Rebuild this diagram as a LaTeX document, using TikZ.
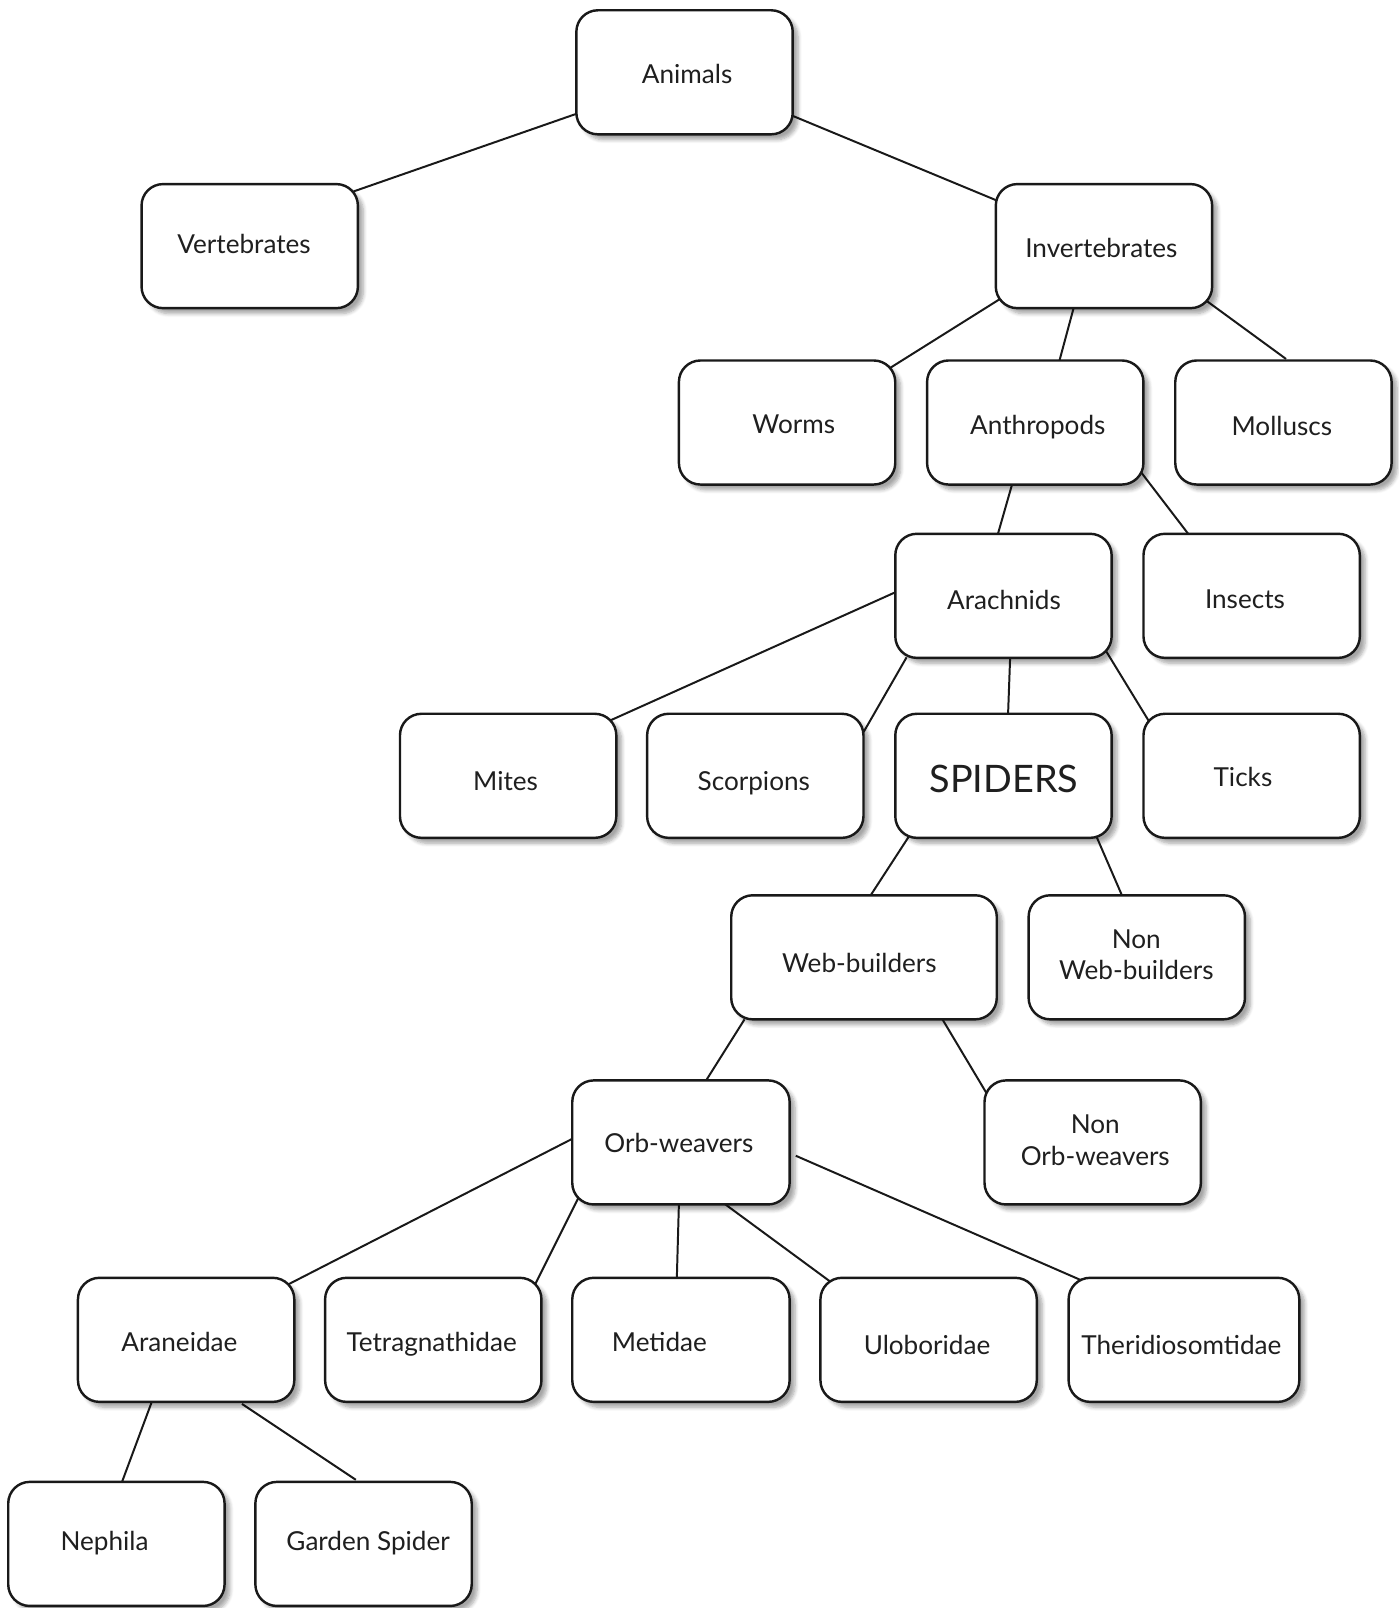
\documentclass[tikz,border=0pt]{standalone}
\usepackage{fontspec}
\setmainfont{Lato}
\usetikzlibrary{calc,backgrounds,shadows.blur}
\begin{document}
\begin{tikzpicture}[x=0.02cm,y=-0.02cm,
  box/.style={draw=black!90,line width=1.35pt,fill=white,rounded corners=0.42cm,
    minimum width=4.22cm,minimum height=2.42cm,
    blur shadow={shadow xshift=3pt,shadow yshift=-3pt,shadow blur steps=6,shadow opacity=35}},
  txt/.style={inner sep=0pt,text=black!88,font=\fontsize{14.5}{17.6}\selectfont,
    text height=10.4pt,text depth=0pt},
  txt2/.style={inner sep=0pt,text=black!88,font=\fontsize{14.5}{17.6}\selectfont,align=center},
  link/.style={draw=black!90,line width=1.1pt}]
\useasboundingbox (0,0) rectangle (1364,1568);
% boxes
\node[box] (anim) at (667.5,70.5) {};
\node[box] (vert) at (243.5,240) {};
\node[box] (invert) at (1076.5,240) {};
\node[box] (worms) at (767.5,412) {};
\node[box] (anthro) at (1009.5,412) {};
\node[box] (moll) at (1251.5,412) {};
\node[box] (arach) at (978.5,581) {};
\node[box] (insects) at (1220.5,581) {};
\node[box] (mites) at (495.5,756.5) {};
\node[box] (scorp) at (736.5,756.5) {};
\node[box] (spiders) at (978.5,756.5) {};
\node[box] (ticks) at (1220.5,756.5) {};
\node[box,minimum width=5.18cm] (web) at (842.5,933.5) {};
\node[box] (nonweb) at (1108.5,933.5) {};
\node[box,minimum width=4.24cm] (orb) at (664,1114) {};
\node[box] (nonorb) at (1065.5,1114) {};
\node[box] (aran) at (181.5,1306.5) {};
\node[box] (tetra) at (422.5,1306.5) {};
\node[box,minimum width=4.24cm] (met) at (664,1306.5) {};
\node[box] (ulo) at (905.5,1306.5) {};
\node[box,minimum width=4.5cm] (theri) at (1154.5,1306.5) {};
\node[box] (neph) at (113.5,1505.5) {};
\node[box] (garden) at (354.5,1505.5) {};
% labels
\node[txt] (anim-t) at (670,72) {Animals};
\node[txt] (vert-t) at (238,238) {Vertebrates};
\node[txt] (invert-t) at (1074,242) {Invertebrates};
\node[txt] (worms-t) at (774,414) {Worms};
\node[txt] (anthro-t) at (1012,415) {Anthropods};
\node[txt] (moll-t) at (1250,416) {Molluscs};
\node[txt] (arach-t) at (979,585) {Arachnids};
\node[txt] (insects-t) at (1214,584) {Insects};
\node[txt] (mites-t) at (493,762) {Mites};
\node[txt] (scorp-t) at (735,762) {Scorpions};
\node[txt,font=\fontsize{21}{24}\selectfont,text height=15pt] (spiders-t) at (979,760) {SPIDERS};
\node[txt] (ticks-t) at (1212,758) {Ticks};
\node[txt] (web-t) at (838,939) {Web-builders};
\node[txt2] (nonweb-t) at (1108,931) {Non\\Web-builders};
\node[txt] (orb-t) at (662,1115) {Orb-weavers};
\node[txt2] (nonorb-t) at (1068,1112) {Non\\Orb-weavers};
\node[txt] (aran-t) at (175,1309) {Araneidae};
\node[txt] (tetra-t) at (421,1309) {Tetragnathidae};
\node[txt] (met-t) at (643,1309) {Metidae};
\node[txt] (ulo-t) at (904,1312) {Uloboridae};
\node[txt] (theri-t) at (1152,1312) {Theridiosomtidae};
\node[txt] (neph-t) at (102,1503) {Nephila};
\node[txt] (garden-t) at (359,1503) {Garden Spider};
\begin{scope}[on background layer]
\draw[link] ($(anim)+(-105.5,40.5)$) -- ($(vert)+(97.5,-52)$);
\draw[link] ($(anim)+(105.5,42.5)$) -- ($(invert)+(-98.5,-42)$);
\draw[link] ($(invert)+(-100.5,51)$) -- ($(worms)+(98.5,-52)$);
\draw[link] ($(invert)+(-29.5,60)$) -- ($(anthro)+(23.5,-60)$);
\draw[link] ($(invert)+(99.5,53)$) -- ($(moll)+(2.5,-62)$);
\draw[link] ($(anthro)+(-22.5,60)$) -- ($(arach)+(-5.5,-60)$);
\draw[link] ($(anthro)+(100.5,45)$) -- ($(insects)+(-61.5,-60)$);
\draw[link] ($(arach)+(-106.5,-3)$) -- ($(mites)+(98.5,-53.5)$);
\draw[link] ($(arach)+(-94.5,60)$) -- ($(scorp)+(105.5,-42.5)$);
\draw[link] ($(arach)+(6.5,60)$) -- ($(spiders)+(4.5,-60.5)$);
\draw[link] ($(arach)+(99.5,53)$) -- ($(ticks)+(-98.5,-50.5)$);
\draw[link] ($(spiders)+(-90.5,56.5)$) -- ($(web)+(6.5,-60.5)$);
\draw[link] ($(spiders)+(89.5,56.5)$) -- ($(nonweb)+(-14.5,-60.5)$);
\draw[link] ($(web)+(-116.5,60.5)$) -- ($(orb)+(23,-58)$);
\draw[link] ($(web)+(76.5,60.5)$) -- ($(nonorb)+(-103.5,-48)$);
\draw[link] ($(orb)+(-107,-3)$) -- ($(aran)+(96.5,-52.5)$);
\draw[link] ($(orb)+(-98,50)$) -- ($(tetra)+(98.5,-52.5)$);
\draw[link] ($(orb)+(-2,60)$) -- ($(met)+(-4,-60.5)$);
\draw[link] ($(orb)+(40,58)$) -- ($(ulo)+(-95.5,-56.5)$);
\draw[link] ($(orb)+(112,13)$) -- ($(theri)+(-96.5,-56.5)$);
\draw[link] ($(aran)+(-33.5,60.5)$) -- ($(neph)+(5.5,-60.5)$);
\draw[link] ($(aran)+(54.5,62.5)$) -- ($(garden)+(-7.5,-62.5)$);
\end{scope}
\end{tikzpicture}
\end{document}
